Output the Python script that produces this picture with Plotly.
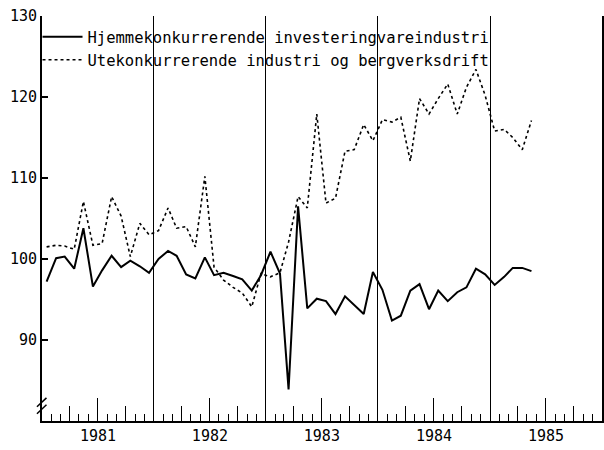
import pandas as pd
import plotly.graph_objects as go

# monthly index, Jan 1981 - May 1985
months = pd.date_range("1981-01-01", periods=53, freq="MS") + pd.Timedelta(days=15)

hjemme = [
    97.2, 100.1, 100.3, 98.8, 103.8, 96.6, 98.6, 100.4, 99.0, 99.8, 99.1, 98.3,
    100.0, 101.0, 100.4, 98.1, 97.6, 100.2, 98.0, 98.3, 97.9, 97.5, 96.1, 98.0,
    100.9, 98.2, 83.9, 106.5, 93.9, 95.1, 94.8, 93.2, 95.4, 94.3, 93.2, 98.4,
    96.2, 92.4, 93.0, 96.1, 96.9, 93.8, 96.1, 94.8, 95.9, 96.5, 98.8, 98.1,
    96.8, 97.8, 98.9, 98.9, 98.5,
]
ute = [
    101.5, 101.7, 101.6, 101.2, 107.1, 101.7, 101.9, 107.7, 105.3, 100.3, 104.4, 103.0,
    103.5, 106.3, 103.8, 104.0, 101.5, 110.2, 99.0, 97.4, 96.5, 95.8, 94.1, 98.2,
    97.8, 98.3, 102.1, 107.7, 106.3, 117.9, 106.9, 107.5, 113.3, 113.5, 116.6, 114.6,
    117.2, 116.9, 117.5, 112.1, 119.8, 117.9, 119.8, 121.6, 117.9, 121.2, 123.4, 120.2,
    115.8, 116.0, 115.0, 113.5, 117.1,
]
names = ["Hjemmekonkurrerende investeringvareindustri",
         "Utekonkurrerende industri og bergverksdrift"]
y_ticks = [90, 100, 110, 120, 130]

FONT = "DejaVu Sans Mono"
x_range = ["1981-01-01", "1986-01-01"]

fig = go.Figure()
fig.add_trace(go.Scatter(x=months, y=hjemme, mode="lines", name=names[0],
                         line=dict(color="black", width=2)))
fig.add_trace(go.Scatter(x=months, y=ute, mode="lines", name=names[1],
                         line=dict(color="black", width=1.6, dash="dot")))
# dummy trace so the second (tick-only) x axis exists
fig.add_trace(go.Scatter(x=[], y=[], xaxis="x2", showlegend=False))

fig.update_layout(
    width=604, height=450,
    margin=dict(l=42, r=2, t=16, b=29),
    paper_bgcolor="white", plot_bgcolor="white",
    font=dict(family=FONT, color="black", size=14),
    xaxis=dict(
        type="date", range=x_range, automargin=False,
        tick0="1981-01-01", dtick="M12",
        ticklabelmode="period", tickformat="%Y",
        ticks="", showgrid=True, gridcolor="black", gridwidth=1.3,
        showline=True, linecolor="black", linewidth=2,
        tickfont=dict(size=15, family=FONT),
        minor=dict(dtick="M1", ticks="inside", ticklen=7,
                   tickcolor="black", tickwidth=1.2, showgrid=False),
        zeroline=False,
    ),
    xaxis2=dict(
        type="date", range=x_range, overlaying="x", anchor="y", side="bottom",
        automargin=False,
        tick0="1981-01-01", dtick="M6",
        ticks="inside", ticklen=23, tickcolor="black", tickwidth=1.2,
        showticklabels=False, showgrid=False, showline=False,
        minor=dict(dtick="M3", ticks="inside", ticklen=15,
                   tickcolor="black", tickwidth=1.2, showgrid=False),
    ),
    yaxis=dict(
        range=[80, 130], tickvals=y_ticks, automargin=False,
        ticks="inside", ticklen=6, tickcolor="black", tickwidth=2,
        showline=True, linecolor="black", linewidth=2, mirror=True,
        showgrid=False, zeroline=False,
        tickfont=dict(size=15, family=FONT),
    ),
    legend=dict(
        x=-0.008, y=0.99, xanchor="left", yanchor="top",
        bgcolor="rgba(0,0,0,0)", borderwidth=0,
        font=dict(size=15.5, family=FONT),
        itemwidth=40, tracegroupgap=0,
    ),
    showlegend=True,
)

# broken-axis marks at bottom left
for y0 in (0.028, 0.045):
    fig.add_shape(type="line", xref="paper", yref="paper",
                  x0=-0.009, y0=y0 - 0.01, x1=0.008, y1=y0 + 0.012,
                  line=dict(color="black", width=1.5))

# page body has a default 8px margin; drop it so the figure fills the window
fig.write_html("out.html", config={"displayModeBar": False},
               post_script="document.body.style.margin='0';")
